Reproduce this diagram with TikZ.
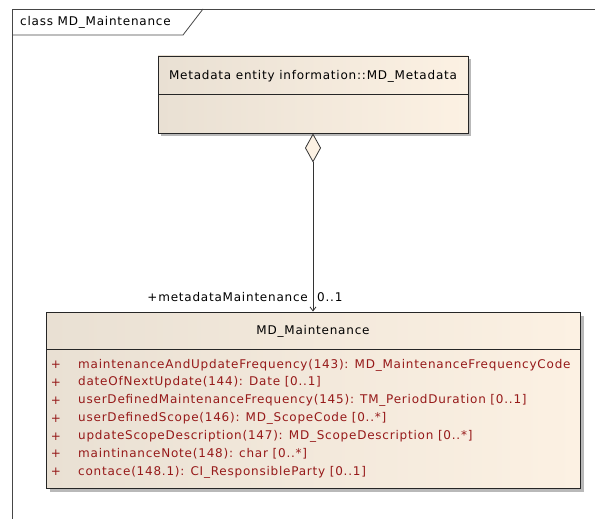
\documentclass[tikz,border=0pt]{standalone}
\usepackage{fontspec}
\setmainfont{DejaVu Sans}
\newfontfamily\umlfont[LetterSpace=6.5]{DejaVu Sans}
\usetikzlibrary{arrows.meta}
\definecolor{frameC}{RGB}{70,70,70}
\definecolor{boxL}{RGB}{233,224,211}
\definecolor{boxR}{RGB}{252,241,227}
\definecolor{attrC}{RGB}{150,25,25}
\definecolor{shadowC}{RGB}{185,185,185}
\tikzset{
  classbox/.style={draw=black!85, line width=0.9pt, left color=boxL, right color=boxR, inner sep=0pt},
  shadowbox/.style={fill=shadowC, draw=none},
  titletext/.style={font=\umlfont\fontsize{12}{14}\selectfont, text=black, inner sep=0pt},
  attrtext/.style={font=\umlfont\fontsize{12}{14}\selectfont, text=attrC, anchor=west, inner sep=0pt},
  plus/.style={font=\umlfont\fontsize{12}{14}\selectfont, text=attrC, inner sep=0pt},
  roletext/.style={font=\umlfont\fontsize{12}{14}\selectfont, text=black, inner sep=0pt},
  assoc/.style={draw=black!80, line width=0.8pt, {Diamond[open, fill=boxR, length=29pt, width=16pt, line width=0.8pt]}-{Straight Barb[length=4pt, width=6pt]}}
}
\begin{document}
\begin{tikzpicture}[x=1pt,y=-1pt]
\useasboundingbox (0,0) rectangle (595,519);
% frame
\draw[frameC, line width=0.8pt] (12,519) -- (12,9) -- (595,9);
\draw[frameC, line width=0.8pt] (12,35) -- (183,35) -- (203,9);
\node[titletext, anchor=west] (frametitle) at (20,22) {class MD\_Maintenance};
% MD_Metadata
\fill[shadowbox] (161,59) rectangle (471,136);
\node[classbox, minimum width=310pt, minimum height=77pt] (meta) at (313,94.5) {};
\draw[black!85, line width=0.9pt] (158,94) -- (468,94);
\node[titletext] (metatitle) at (313,76) {Metadata entity information::MD\_Metadata};
% MD_Maintenance
\fill[shadowbox] (50,316) rectangle (584,492);
\node[classbox, minimum width=534pt, minimum height=176pt] (maint) at (313,400) {};
\draw[black!85, line width=0.9pt] (46,349) -- (580,349);
\node[titletext] (mainttitle) at (313,331) {MD\_Maintenance};
% attributes
\foreach \i/\t [count=\k] in {
 365/{maintenanceAndUpdateFrequency(143):  MD\_MaintenanceFrequencyCode},
 382.5/{dateOfNextUpdate(144):  Date [0..1]},
 400.5/{userDefinedMaintenanceFrequency(145):  TM\_PeriodDuration [0..1]},
 418.5/{userDefinedScope(146):  MD\_ScopeCode [0..*]},
 436.5/{updateScopeDescription(147):  MD\_ScopeDescription [0..*]},
 454/{maintinanceNote(148):  char [0..*]},
 472/{contace(148.1):  CI\_ResponsibleParty [0..1]}}
{
  \node[plus] (p\k) at (56,\i) {+};
  \node[attrtext] (a\k) at (78,\i) {\t};
}
% association
\draw[assoc] (meta.south) -- (maint.north);
\node[roletext, anchor=east] (role) at (308,297) {+metadataMaintenance};
\node[roletext, anchor=west] (mult) at (317,297) {0..1};
\end{tikzpicture}
\end{document}
